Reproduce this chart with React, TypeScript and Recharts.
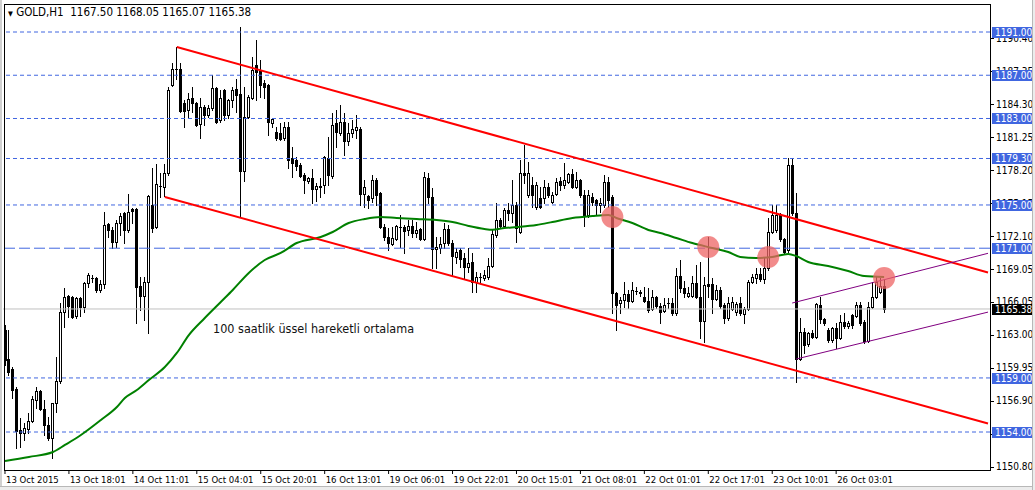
import { ComposedChart, Bar, Line, XAxis, YAxis, ReferenceLine, ReferenceDot } from "recharts"

// GOLD H1, one bar per hour (index 0 = 13 Oct 2015 02:01)
const openPx = [
  1163.44, 1160.75, 1159.83, 1157.98, 1154.19, 1153.91, 1154.28, 1155.02, 1156.96, 1157.79,
  1156.13, 1154.65, 1153.45, 1156.68, 1158.72, 1165.10, 1166.58, 1166.49, 1164.73, 1166.39,
  1165.56, 1167.78, 1168.25, 1168.25, 1167.14, 1167.69, 1173.24, 1172.69, 1171.57, 1173.33,
  1174.26, 1172.69, 1174.63, 1174.63, 1167.51, 1166.58, 1167.88, 1175.00, 1172.96, 1176.76,
  1176.66, 1177.96, 1186.10, 1187.58, 1187.58, 1184.43, 1183.79, 1184.90, 1184.43, 1182.49,
  1184.06, 1183.32, 1183.97, 1185.82, 1182.86, 1185.64, 1183.32, 1184.71, 1185.73, 1185.27,
  1178.14, 1183.14, 1184.90, 1187.95, 1187.49, 1186.28, 1186.10, 1182.58, 1181.75, 1181.66,
  1181.20, 1182.21, 1179.35, 1179.16, 1178.70, 1177.77, 1177.22, 1177.50, 1176.48, 1176.66,
  1176.85, 1179.35, 1177.68, 1182.58, 1181.66, 1182.68, 1180.92, 1181.66, 1181.94, 1182.03,
  1176.01, 1175.83, 1175.65, 1177.31, 1176.11, 1172.96, 1172.04, 1171.39, 1171.85, 1172.96,
  1172.96, 1172.69, 1173.06, 1172.41, 1172.78, 1171.85, 1177.50, 1175.74, 1170.93, 1171.02,
  1171.48, 1172.78, 1171.48, 1170.19, 1170.84, 1170.09, 1169.26, 1169.72, 1167.88, 1168.34,
  1168.25, 1168.34, 1169.35, 1172.22, 1173.61, 1173.06, 1174.54, 1174.26, 1175.00, 1172.50,
  1177.96, 1175.92, 1176.85, 1174.81, 1175.65, 1175.65, 1176.66, 1175.28, 1176.01, 1177.22,
  1176.85, 1177.13, 1177.87, 1176.66, 1177.31, 1175.92, 1174.07, 1175.74, 1175.46, 1175.00,
  1175.00, 1177.13, 1175.74, 1166.86, 1165.93, 1166.21, 1166.77, 1166.12, 1167.04, 1166.86,
  1166.49, 1166.12, 1165.38, 1166.49, 1165.65, 1165.19, 1165.93, 1165.93, 1165.01, 1168.43,
  1167.32, 1166.58, 1166.58, 1167.78, 1166.49, 1164.27, 1167.69, 1167.69, 1166.30, 1167.14,
  1165.75, 1164.54, 1165.38, 1165.10, 1165.93, 1164.91, 1165.38, 1167.88, 1168.25, 1168.62,
  1168.15, 1169.17, 1172.50, 1172.69, 1174.07, 1171.85, 1170.84, 1178.70, 1174.26, 1160.75,
  1163.25, 1162.14, 1163.16, 1162.79, 1165.75, 1164.45, 1163.44, 1162.51, 1163.62, 1162.70,
  1164.17, 1163.80, 1164.82, 1164.73, 1165.75, 1164.17, 1162.42, 1165.56, 1166.49, 1166.95,
  1167.50,
]

const highPx = [
  1163.90, 1163.44, 1160.01, 1158.16, 1155.31, 1154.83, 1155.76, 1157.33, 1158.16, 1157.89,
  1156.96, 1155.39, 1156.70, 1160.94, 1165.93, 1167.32, 1166.67, 1166.58, 1166.49, 1166.49,
  1167.88, 1168.71, 1168.52, 1168.34, 1168.06, 1174.35, 1173.33, 1172.96, 1173.61, 1174.26,
  1174.35, 1176.01, 1174.72, 1174.72, 1168.34, 1168.34, 1175.92, 1178.42, 1178.79, 1177.96,
  1178.79, 1185.91, 1188.13, 1189.61, 1188.13, 1184.71, 1185.36, 1185.91, 1184.53, 1184.90,
  1184.25, 1184.25, 1187.02, 1185.91, 1185.64, 1185.73, 1184.80, 1185.91, 1186.65, 1191.46,
  1185.91, 1185.17, 1188.69, 1190.26, 1188.41, 1186.56, 1186.19, 1183.05, 1182.21, 1182.58,
  1182.68, 1182.68, 1180.36, 1179.44, 1178.88, 1177.96, 1177.59, 1178.33, 1177.03, 1177.50,
  1179.50, 1181.29, 1183.51, 1183.79, 1184.25, 1183.51, 1182.58, 1182.86, 1183.32, 1182.21,
  1177.31, 1175.92, 1177.77, 1177.50, 1176.20, 1173.24, 1172.87, 1172.96, 1173.15, 1174.07,
  1173.15, 1173.61, 1173.61, 1173.43, 1172.87, 1178.05, 1177.96, 1176.57, 1172.04, 1172.04,
  1173.33, 1173.15, 1171.76, 1171.02, 1171.02, 1170.56, 1171.02, 1170.56, 1168.80, 1168.71,
  1168.99, 1170.09, 1172.78, 1175.18, 1173.80, 1174.72, 1175.18, 1177.31, 1175.28, 1179.16,
  1180.55, 1178.98, 1177.59, 1177.13, 1176.66, 1177.31, 1177.03, 1176.20, 1177.50, 1177.59,
  1178.88, 1177.96, 1178.33, 1178.05, 1177.40, 1176.39, 1176.39, 1176.11, 1175.55, 1175.65,
  1177.77, 1177.59, 1175.92, 1166.95, 1166.49, 1167.88, 1167.14, 1167.88, 1167.41, 1167.14,
  1167.41, 1167.32, 1167.14, 1166.58, 1165.93, 1166.39, 1166.39, 1166.39, 1169.17, 1169.91,
  1167.97, 1167.41, 1168.43, 1169.45, 1169.72, 1168.34, 1172.04, 1168.25, 1167.60, 1167.41,
  1165.93, 1166.49, 1166.49, 1166.02, 1166.49, 1165.56, 1168.06, 1168.62, 1169.17, 1169.17,
  1170.09, 1173.80, 1175.00, 1175.00, 1174.26, 1171.95, 1179.35, 1179.35, 1176.11, 1164.54,
  1163.62, 1163.25, 1163.44, 1165.93, 1166.49, 1164.54, 1163.62, 1163.71, 1164.08, 1164.82,
  1165.01, 1164.27, 1164.91, 1166.02, 1166.02, 1164.36, 1166.02, 1167.88, 1168.34, 1168.25,
  1168.05,
]

const lowPx = [
  1160.20, 1159.27, 1157.15, 1152.52, 1152.61, 1153.26, 1153.91, 1154.93, 1156.22, 1156.04,
  1153.72, 1153.26, 1151.59, 1155.85, 1158.53, 1163.71, 1164.64, 1164.54, 1164.54, 1164.73,
  1165.10, 1167.41, 1167.88, 1166.95, 1166.95, 1167.32, 1172.04, 1171.02, 1171.11, 1172.22,
  1171.48, 1172.50, 1173.33, 1164.08, 1165.28, 1164.36, 1163.16, 1172.50, 1172.87, 1175.74,
  1175.83, 1177.77, 1186.01, 1186.65, 1183.60, 1182.21, 1183.05, 1183.60, 1182.31, 1181.20,
  1182.40, 1183.14, 1183.79, 1182.58, 1182.68, 1182.86, 1183.05, 1184.06, 1183.60, 1173.89,
  1177.22, 1183.05, 1184.80, 1184.71, 1184.99, 1184.90, 1181.47, 1182.21, 1181.01, 1181.01,
  1181.01, 1178.42, 1177.59, 1178.24, 1177.59, 1176.11, 1177.03, 1175.18, 1175.37, 1175.74,
  1176.11, 1176.85, 1177.50, 1180.36, 1181.47, 1179.62, 1180.55, 1181.29, 1181.20, 1175.00,
  1174.81, 1174.72, 1175.28, 1175.00, 1172.87, 1171.76, 1170.84, 1171.30, 1171.76, 1171.11,
  1170.56, 1172.22, 1172.04, 1172.04, 1171.76, 1171.76, 1175.18, 1169.17, 1169.17, 1170.56,
  1171.02, 1171.30, 1168.52, 1169.63, 1169.26, 1168.25, 1168.80, 1166.95, 1166.95, 1167.88,
  1168.06, 1168.15, 1169.26, 1172.04, 1172.87, 1172.87, 1173.61, 1173.43, 1171.57, 1172.41,
  1177.03, 1175.74, 1174.81, 1174.63, 1174.72, 1175.18, 1175.74, 1175.18, 1175.92, 1176.39,
  1176.57, 1177.03, 1176.57, 1176.57, 1175.74, 1173.06, 1173.89, 1175.00, 1174.07, 1174.35,
  1174.81, 1174.81, 1165.01, 1163.44, 1165.01, 1165.56, 1165.47, 1166.02, 1166.77, 1166.58,
  1166.02, 1165.10, 1165.28, 1165.47, 1164.08, 1165.10, 1165.47, 1164.82, 1164.82, 1166.95,
  1166.49, 1166.49, 1166.49, 1166.39, 1162.70, 1162.32, 1166.49, 1165.01, 1166.21, 1165.47,
  1164.08, 1164.36, 1165.28, 1164.82, 1164.82, 1164.08, 1165.28, 1167.78, 1167.78, 1167.97,
  1167.78, 1168.99, 1172.41, 1172.50, 1171.67, 1170.56, 1170.65, 1174.07, 1158.61, 1160.66,
  1161.31, 1161.95, 1162.70, 1162.70, 1164.08, 1163.90, 1162.32, 1162.32, 1161.77, 1162.60,
  1163.62, 1163.62, 1163.62, 1164.64, 1163.90, 1162.23, 1162.32, 1165.47, 1166.39, 1166.86,
  1165.07,
]

const closePx = [
  1160.66, 1159.55, 1157.89, 1154.09, 1153.91, 1154.37, 1155.02, 1157.05, 1157.79, 1156.13,
  1154.65, 1153.45, 1156.68, 1158.72, 1165.10, 1166.49, 1165.65, 1164.64, 1166.39, 1165.56,
  1167.78, 1168.52, 1168.22, 1167.14, 1167.69, 1173.15, 1172.69, 1171.57, 1173.33, 1173.98,
  1172.69, 1174.35, 1174.44, 1167.41, 1166.58, 1167.88, 1175.83, 1172.87, 1176.94, 1176.73,
  1177.96, 1185.64, 1187.58, 1187.55, 1183.69, 1183.69, 1184.80, 1184.43, 1182.40, 1184.06,
  1183.32, 1183.97, 1185.82, 1182.68, 1184.90, 1183.32, 1184.71, 1185.64, 1185.17, 1178.14,
  1183.14, 1184.99, 1187.49, 1187.30, 1186.10, 1185.91, 1182.68, 1182.95, 1181.20, 1181.10,
  1182.21, 1179.16, 1178.88, 1178.60, 1177.68, 1177.31, 1177.50, 1176.48, 1176.76, 1176.76,
  1179.44, 1177.77, 1182.40, 1181.75, 1182.68, 1180.92, 1181.66, 1182.03, 1182.21, 1176.01,
  1176.66, 1175.46, 1177.31, 1175.92, 1172.96, 1172.04, 1171.48, 1171.95, 1173.06, 1172.93,
  1172.59, 1173.06, 1172.41, 1172.69, 1171.85, 1177.59, 1175.74, 1170.93, 1171.11, 1171.39,
  1172.78, 1171.48, 1170.28, 1170.65, 1170.00, 1169.26, 1169.63, 1167.88, 1168.34, 1168.31,
  1168.52, 1169.35, 1172.32, 1173.61, 1173.06, 1174.54, 1174.26, 1175.00, 1172.87, 1177.96,
  1177.77, 1177.96, 1175.92, 1176.85, 1174.81, 1176.66, 1175.92, 1175.92, 1177.13, 1176.85,
  1177.31, 1177.87, 1176.66, 1177.31, 1175.92, 1174.07, 1175.92, 1175.28, 1175.00, 1175.18,
  1177.13, 1175.46, 1166.86, 1165.75, 1166.21, 1166.77, 1166.12, 1167.14, 1167.01, 1166.95,
  1166.12, 1165.28, 1166.49, 1165.65, 1165.10, 1165.75, 1165.90, 1165.01, 1168.43, 1167.32,
  1166.86, 1166.86, 1167.78, 1166.49, 1164.27, 1167.60, 1167.51, 1166.30, 1167.14, 1165.65,
  1164.54, 1165.93, 1166.02, 1165.84, 1165.01, 1165.38, 1167.88, 1168.34, 1168.62, 1168.15,
  1169.17, 1172.50, 1174.07, 1174.07, 1171.85, 1170.65, 1178.70, 1174.26, 1160.75, 1163.25,
  1162.05, 1163.16, 1162.79, 1165.84, 1164.45, 1164.08, 1162.51, 1163.62, 1162.70, 1164.17,
  1163.80, 1164.08, 1163.90, 1165.75, 1164.08, 1162.42, 1165.56, 1166.49, 1167.88, 1167.51,
  1165.38,
]

// 100 period EMA, read at a subset of bars
const emaIdx = [
  0, 6, 12, 15, 19, 24, 28, 30, 33, 36, 40, 43, 46, 50, 54, 57, 61, 65, 69, 73,
  79, 82, 86, 90, 94, 98, 103, 108, 112, 116, 120, 122, 125, 128, 133, 137, 142, 147, 151, 153,
  157, 161, 164, 168, 172, 177, 181, 184, 188, 192, 196, 198, 201, 206, 211, 215, 220,
]
const emaVal = [
  1151.32, 1151.69, 1152.15, 1152.80, 1153.72, 1155.11, 1156.31, 1157.15, 1157.89, 1158.81,
  1160.01, 1161.31, 1162.97, 1164.55, 1166.03, 1167.14, 1168.71, 1169.91, 1170.56, 1171.48,
  1172.04, 1172.50, 1173.33, 1173.70, 1173.89, 1173.80, 1173.70, 1173.61, 1173.43, 1173.06,
  1172.78, 1172.71, 1172.87, 1172.96, 1173.15, 1173.43, 1173.80, 1173.98, 1174.07, 1173.80,
  1173.33, 1172.69, 1172.41, 1171.95, 1171.48, 1171.02, 1170.65, 1170.19, 1170.10, 1170.19,
  1170.47, 1170.28, 1169.73, 1169.36, 1168.89, 1168.43, 1168.34,
]

// bar slots on the x axis (chart shift leaves empty room at the right)
const SLOTS = 247

const xTickIdx = [0, 16, 32, 48, 64, 80, 96, 112, 128, 144, 160, 176, 192, 208]
const xTickLabels = [
  "13 Oct 2015", "13 Oct 18:01", "14 Oct 11:01", "15 Oct 04:01", "15 Oct 20:01",
  "16 Oct 13:01", "19 Oct 06:01", "19 Oct 22:01", "20 Oct 15:01", "21 Oct 08:01",
  "22 Oct 01:01", "22 Oct 17:01", "23 Oct 10:01", "26 Oct 03:01",
]

const priceTicks = [
  1190.4, 1187.35, 1184.3, 1181.25, 1178.2, 1175.15, 1172.1, 1169.05, 1166.05, 1163.0,
  1159.95, 1156.9, 1153.85, 1150.8,
]

// horizontal levels drawn on the chart
const levels = [1191, 1187, 1183, 1179.3, 1175, 1171, 1159, 1154]
const bidPrice = 1165.38

// trend channels: [barIndex, price]
const redUpper = [[43, 1189.61], [246, 1168.76]]
const redLower = [[40, 1175.74], [246, 1154.79]]
const purpleUpper = [[197, 1165.93], [246, 1170.53]]
const purpleLower = [[198, 1160.75], [246, 1165.09]]

// touch points marked with circles
const markIdx = [152, 176, 191, 220]
const markPrice = [1173.89, 1171.11, 1170.19, 1168.25]

const FONT = "'DejaVu Sans Condensed', 'DejaVu Sans', sans-serif"
const BLUE = "#4066e0"

const emaMap = new Map(emaIdx.map((k, j) => [k, emaVal[j]]))
const data = Array.from({ length: SLOTS }, (_, i) => ({
  i,
  o: openPx[i],
  h: highPx[i],
  l: lowPx[i],
  c: closePx[i],
  ema: emaMap.has(i) ? emaMap.get(i) : null,
}))

const candleRange = (d: any) => (d.h == null ? null : [d.l, d.h])

function Candle(props: any) {
  const { x, y, width, height, payload } = props
  if (!payload || payload.h == null) return null
  const col = Math.floor(x + width / 2)
  const top = Math.min(y, y + height)
  const bot = Math.max(y, y + height)
  const span = payload.h - payload.l
  const toY = (v: number) => (span === 0 ? top : top + ((payload.h - v) / span) * (bot - top))
  const yh = Math.round(top)
  const yl = Math.round(bot)
  const yo = Math.round(toY(payload.o))
  const yc = Math.round(toY(payload.c))
  const bt = Math.min(yo, yc)
  const bb = Math.max(yo, yc)
  const wx = col + 0.5
  if (payload.c > payload.o && bb - bt >= 2) {
    return (
      <g>
        <line x1={wx} x2={wx} y1={yh} y2={bt} stroke="#000" strokeWidth={1} />
        <line x1={wx} x2={wx} y1={bb} y2={yl + 1} stroke="#000" strokeWidth={1} />
        <rect x={col - 0.5} y={bt + 0.5} width={2} height={bb - bt} fill="#fff" stroke="#000" strokeWidth={1} />
      </g>
    )
  }
  return (
    <g>
      <line x1={wx} x2={wx} y1={yh} y2={yl + 1} stroke="#000" strokeWidth={1} />
      <rect x={col - 1} y={bt} width={3} height={Math.max(1, bb - bt + 1)} fill="#000" />
    </g>
  )
}

function TimeTick(props: any) {
  const { x, y, payload } = props
  const k = xTickIdx.indexOf(payload.value)
  return (
    <text x={x + 1} y={y} dy="0.71em" fontSize={9.5} fontFamily={FONT} fill="#000">
      {k >= 0 ? xTickLabels[k] : ""}
    </text>
  )
}

function PriceTick(props: any) {
  const { x, y, payload } = props
  const v = payload.value
  const ax = x - 6
  const label = v.toFixed(2)
  if (levels.includes(v) || v === bidPrice) {
    return (
      <g>
        <rect x={ax + 2} y={Math.round(y) - 5} width={41} height={11} fill={v === bidPrice ? "#000" : BLUE} />
        <text x={ax + 5} y={y} dy="0.36em" fontSize={10} fontFamily={FONT} fill="#fff">
          {label}
        </text>
      </g>
    )
  }
  return (
    <g>
      <line x1={ax} x2={ax + 4} y1={Math.round(y) + 0.5} y2={Math.round(y) + 0.5} stroke="#000" />
      <text x={ax + 6} y={y} dy="0.36em" fontSize={10} fontFamily={FONT} fill="#000">
        {label}
      </text>
    </g>
  )
}

const seg = (pts: number[][]) => pts.map(([x, y]) => ({ x, y }))

export default function App() {
  return (
    <div style={{ position: "absolute", left: 0, top: 0, width: 1035, height: 490, background: "#fff" }}>
      <ComposedChart
        width={1035}
        height={490}
        data={data}
        margin={{ top: 4, left: 3, right: 3, bottom: 4 }}
        barCategoryGap={0}
      >
        <XAxis
          dataKey="i"
          type="category"
          ticks={xTickIdx}
          interval={0}
          height={16}
          tickSize={4}
          tickMargin={2}
          axisLine={false}
          tickLine={{ stroke: "#000" }}
          tick={<TimeTick />}
        />
        <YAxis
          yAxisId={0}
          orientation="right"
          type="number"
          domain={[1150.485, 1193.59]}
          allowDataOverflow
          ticks={[...priceTicks, ...levels, bidPrice]}
          interval={0}
          width={42}
          tickSize={4}
          tickMargin={2}
          axisLine={false}
          tickLine={false}
          tick={<PriceTick />}
        />
        {levels.map((v) => (
          <ReferenceLine
            key={v}
            y={v}
            stroke={BLUE}
            strokeWidth={1}
            strokeDasharray={v === 1171 ? "11 4" : "4 3"}
          />
        ))}
        <ReferenceLine y={bidPrice} stroke="#c0c0c0" strokeWidth={1} />
        <Bar dataKey={candleRange} shape={(p: any) => <Candle {...p} />} isAnimationActive={false} />
        <Line
          type="monotone"
          dataKey="ema"
          stroke="#008000"
          strokeWidth={2}
          dot={false}
          connectNulls
          isAnimationActive={false}
        />
        <ReferenceLine segment={seg(redUpper)} stroke="#ff0000" strokeWidth={2} />
        <ReferenceLine segment={seg(redLower)} stroke="#ff0000" strokeWidth={2} />
        <ReferenceLine segment={seg(purpleUpper)} stroke="#800080" strokeWidth={1} />
        <ReferenceLine segment={seg(purpleLower)} stroke="#800080" strokeWidth={1} />
        {markIdx.map((k, j) => (
          <ReferenceDot key={k} x={k} y={markPrice[j]} r={11} fill="#ee6464" fillOpacity={0.75} stroke="none" />
        ))}
      </ComposedChart>
      <div
        style={{
          position: "absolute",
          left: 4,
          top: 4,
          width: 987,
          height: 467,
          border: "1px solid #000",
          boxSizing: "border-box",
          pointerEvents: "none",
        }}
      />
      <div
        style={{
          position: "absolute",
          left: 8,
          top: 5,
          fontFamily: FONT,
          fontSize: 11.5,
          color: "#000",
          whiteSpace: "pre",
        }}
      >
        <span style={{ fontSize: 7 }}>▼</span>{" GOLD,H1  1167.50 1168.05 1165.07 1165.38"}
      </div>
      <div
        style={{
          position: "absolute",
          left: 213,
          top: 321,
          fontFamily: FONT,
          fontSize: 12.5,
          color: "#111",
          whiteSpace: "pre",
        }}
      >
        100 saatlik üssel hareketli ortalama
      </div>
      <div style={{ position: "absolute", left: 0, top: 486, width: 1035, height: 4, background: "#ececec", borderTop: "1px solid #b8b8b8" }} />
      <div style={{ position: "absolute", left: 1032, top: 0, width: 3, height: 490, background: "#ececec", borderLeft: "1px solid #b8b8b8" }} />
      <div style={{ position: "absolute", left: 0, top: 0, width: 2, height: 486, background: "#d0d0d0" }} />
    </div>
  )
}
